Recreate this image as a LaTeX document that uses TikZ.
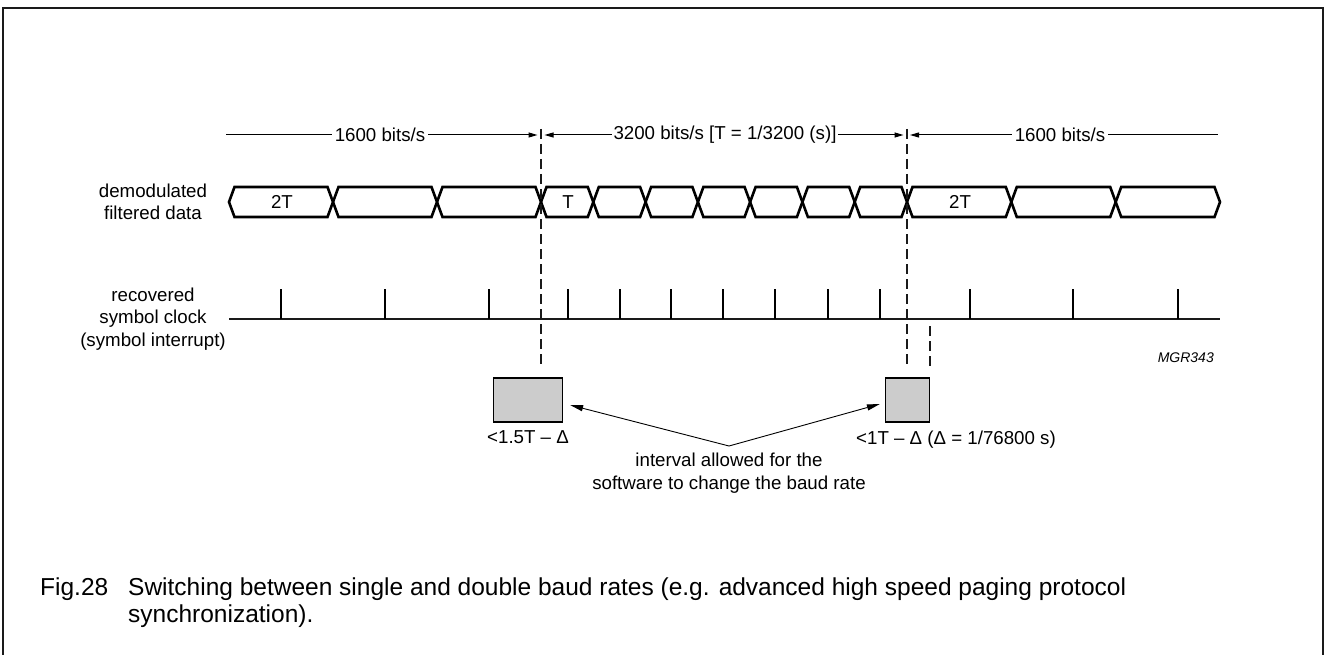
\documentclass[tikz,border=0pt]{standalone}
\usepackage{fontspec}
\setmainfont{Liberation Sans}
\usetikzlibrary{positioning, arrows.meta}
\definecolor{boxc}{HTML}{CCCCCC}
\definecolor{linec}{HTML}{1A1A1A}

\begin{document}
\begin{tikzpicture}[x=1pt, y=-1pt,
    lbl/.style={font=\fontsize{18.7}{22.5}\selectfont, align=center, inner sep=0pt},
    ratelbl/.style={lbl, inner xsep=3pt},
    rate/.style={line width=1pt, -{Triangle[length=9pt, width=5pt]}},
    sw/.style={line width=1.4pt, dash pattern=on 10pt off 5pt, linec},
    cell/.style={line width=2.6pt, line join=miter},
    tick/.style={line width=2.2pt},
    ptr/.style={line width=0.9pt, -{Triangle[length=13pt, width=6pt]}},
    win/.style={draw, line width=1.2pt, fill=boxc, minimum height=44pt, inner sep=0pt}]
  \useasboundingbox (0,0) rectangle (1324,655);
  % frame, open at the bottom
  \draw[line width=2pt, linec] (2.5,655) -- (2.5,8) -- (1322.5,8) -- (1322.5,655);

  % baud rate bar
  \coordinate (s0) at (226,135);
  \coordinate (s1) at (541,135);
  \coordinate (s2) at (907,135);
  \coordinate (s3) at (1218,135);
  \node[ratelbl] (r1) at (380,135) {1600 bits/s};
  \node[ratelbl, inner xsep=1.5pt] (r2) at (725,135) {3200 bits/s [T = 1/3200 (s)]};
  \node[ratelbl] (r3) at (1060,135) {1600 bits/s};
  \draw[line width=1pt] (s0) -- (r1.west);
  \draw[rate] (r1.east) -- ([xshift=-3.5pt]s1);
  \draw[rate] (r2.west) -- ([xshift=3.5pt]s1);
  \draw[rate] (r2.east) -- ([xshift=-3.5pt]s2);
  \draw[rate] (r3.west) -- ([xshift=3pt]s2);
  \draw[line width=1pt] (r3.east) -- (s3);

  % row labels
  \node[lbl] (dlab) at (153,202) {demodulated\\filtered data};
  \node[lbl] (clab) at (153,319) {recovered\\symbol clock\\(symbol interrupt)};

  % data cells
  \foreach \xa/\xb in {229/333, 333/437, 437/541, 541/593.3, 593.3/645.6,
      645.6/697.9, 697.9/750.1, 750.1/802.4, 802.4/854.7, 854.7/907,
      907/1011.3, 1011.3/1115.7, 1115.7/1220}
    \draw[cell] (\xa,202) -- (\xa+5.5,187) -- (\xb-5.5,187) -- (\xb,202)
      -- (\xb-5.5,217) -- (\xa+5.5,217) -- cycle;
  \node[lbl] (c1) at (282,202) {2T};
  \node[lbl] (c4) at (568,202) {T};
  \node[lbl] (c11) at (960,202) {2T};

  % symbol clock
  \coordinate (k0) at (229,319);
  \coordinate (k1) at (1220,319);
  \draw[line width=1.7pt, linec] (k0) -- (k1);
  \foreach \x in {281,385,489,568,620,671,723,775,828,880,970,1073,1178}
    \draw[tick] (\x,319) -- (\x,289);

  % software windows
  \node[win, minimum width=69pt] (b1) at (528,400) {};
  \node[win, minimum width=44pt] (b2) at (907.5,400) {};
  \node[lbl, below=8pt of b1] (b1lab) {<1.5T – Δ};
  \node[lbl, anchor=west] (b2lab) at (856,440) {<1T – Δ (Δ = 1/76800 s)};

  % switch instants
  \coordinate (d1) at (541,129);
  \coordinate (d2) at (907,129);
  \coordinate (d3) at (930,326);
  \draw[sw] (d1) -- (d1 |- 0,368);
  \draw[sw] (d2) -- (d2 |- 0,368);
  \draw[sw] (d3) -- (d3 |- 0,368);

  \node[lbl] (note) at (729,473) {interval allowed for the\\software to change the baud rate};
  \coordinate (nt) at (729,446);
  \draw[ptr] (nt) -- ([xshift=7pt, yshift=-5pt]b1.east);
  \draw[ptr] (nt) -- ([xshift=-5pt, yshift=-4pt]b2.west);

  \node[font=\itshape\fontsize{14}{16}\selectfont, anchor=east, inner sep=0pt] (code) at (1214,358) {MGR343};

  % caption
  \node[anchor=north west, inner sep=0pt, font=\fontsize{24.5}{27}\selectfont] (fig) at (40,576) {\strut Fig.28};
  \node[anchor=north west, inner sep=0pt, align=left,
    font=\fontsize{24.5}{27}\selectfont] (cap) at (128,576)
    {\strut Switching between single and double baud rates (e.g. advanced high speed paging protocol\\synchronization).};
\end{tikzpicture}
\end{document}
